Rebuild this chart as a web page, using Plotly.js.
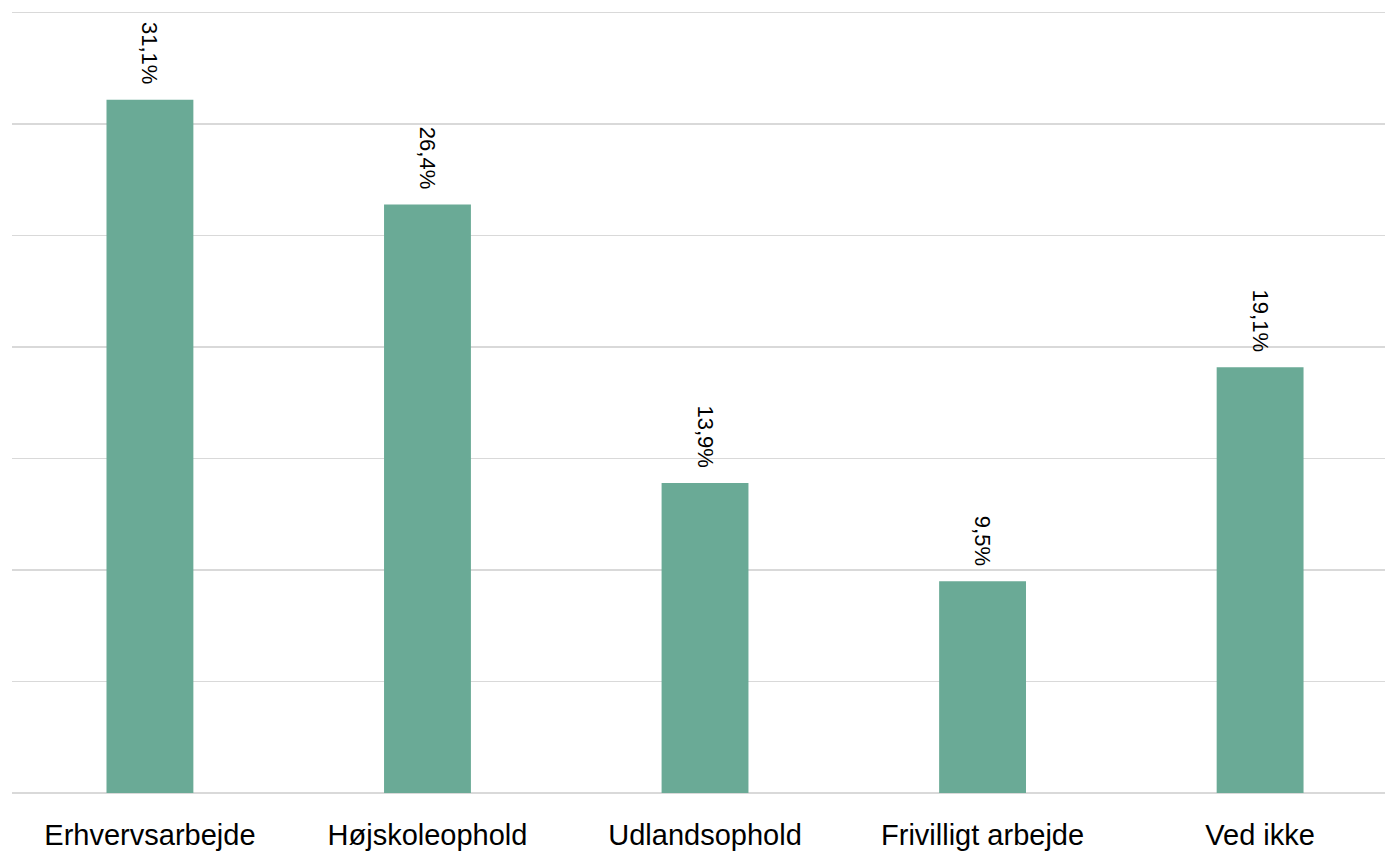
<!DOCTYPE html>
<html><head><meta charset="utf-8">
<script src="https://cdn.plot.ly/plotly-3.0.1.min.js"></script>
<style>html,body{margin:0;padding:0;background:#fff}#chart{width:1385px;height:851px}</style>
</head><body><div id="chart"></div>
<script>
const categories = ["Erhvervsarbejde", "Højskoleophold", "Udlandsophold", "Frivilligt arbejde", "Ved ikke"];
const values = [31.1, 26.4, 13.9, 9.5, 19.1];

const trace = {
  type: 'bar',
  x: categories,
  y: values,
  marker: {color: '#6aaa96'},
  width: 0.313,
  texttemplate: '%{y:.1f}%\u00a0\u00a0',
  textposition: 'outside',
  textangle: 90,
  textfont: {family: 'Liberation Sans, Arial, sans-serif', size: 22, color: '#000'},
  cliponaxis: false,
  hoverinfo: 'skip'
};

const layout = {
  width: 1385, height: 851,
  margin: {l: 12, r: 0, t: 6, b: 58},
  paper_bgcolor: '#fff', plot_bgcolor: '#fff',
  separators: ',.',
  showlegend: false,
  xaxis: {
    type: 'category',
    range: [-0.497, 4.45],
    showgrid: false, zeroline: false, showline: false,
    ticks: '',
    tickfont: {family: 'Liberation Sans, Arial, sans-serif', size: 29, color: '#000'},
    ticklabelstandoff: 22
  },
  yaxis: {
    range: [0, 35.3],
    dtick: 5,
    showticklabels: false,
    showgrid: true, gridcolor: '#d9d9d9', gridwidth: 1.5,
    zeroline: true, zerolinecolor: '#d9d9d9', zerolinewidth: 1.5,
    showline: false, ticks: ''
  }
};

Plotly.newPlot('chart', [trace], layout, {displayModeBar: false, staticPlot: true});
</script></body></html>
